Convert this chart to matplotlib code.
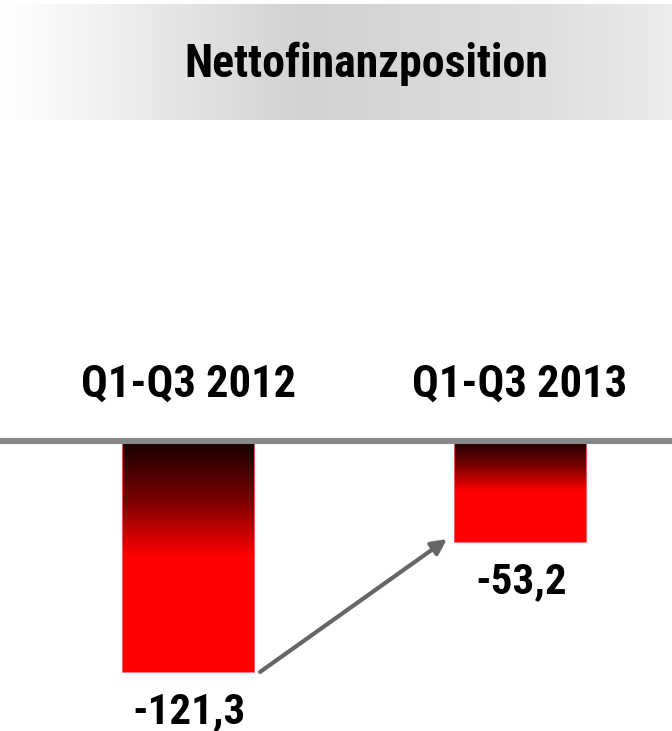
import numpy as np
import matplotlib
matplotlib.use("Agg")
import matplotlib.pyplot as plt
from matplotlib.colors import LinearSegmentedColormap

title = "Nettofinanzposition"
categories = ["Q1-Q3 2012", "Q1-Q3 2013"]
values = [-121.3, -53.2]
value_labels = ["-121,3", "-53,2"]

FONT = ["Roboto Condensed", "Liberation Sans", "DejaVu Sans"]
plt.rcParams['font.family'] = FONT

W, H = 672, 731
fig = plt.figure(figsize=(W / 100, H / 100), dpi=100)

# Title band (gradient)
band = fig.add_axes([0, 1 - 120 / H, 1, (120 - 4) / H])
band_cmap = LinearSegmentedColormap.from_list(
    "band", [(0.0, "#ffffff"), (0.04, "#fcfcfc"), (0.45, "#d2d2d2"), (0.8, "#dedede"), (1.0, "#ececec")])
band.imshow(np.linspace(0, 1, 400).reshape(1, -1), aspect="auto", cmap=band_cmap,
            extent=[0, 1, 0, 1])
band.set_axis_off()
band.text(0.545, (120 - 77) / 116, title, transform=band.transAxes, ha="center", va="baseline",
          fontsize=33, fontweight="bold", color="black")

# Main axes covering figure
ax = fig.add_axes([0, 0, 1, 1 - 120 / H])
ax.set_zorder(-1)
px_per_unit = 1.904
zero_px = 441 - 120  # from top of this axes
ax_h = H - 120
ax.set_ylim(-(ax_h - zero_px) / px_per_unit, zero_px / px_per_unit)
ax.set_xlim(-188 / 332, (W - 188) / 332)
ax.set_axis_off()

bar_cmap = LinearSegmentedColormap.from_list(
    "bar", [(0.0, "#160000"), (0.25, "#780000"), (0.5, "#ff0000"), (1.0, "#ff0000")])
x = np.arange(len(categories))
width = 0.40
bars = ax.bar(x, values, width=width, color="none", edgecolor="#ff6666", linewidth=0.6, zorder=2)
grad = np.linspace(0, 1, 256).reshape(-1, 1)
for b in bars:
    x0, y0 = b.get_x(), b.get_y()
    w, h = b.get_width(), b.get_height()
    im = ax.imshow(grad, aspect="auto", cmap=bar_cmap,
                   extent=[x0, x0 + w, y0 + h, y0], zorder=1, interpolation="bilinear")
    im.set_clip_path(b)

ax.axhline(0, color="#888888", linewidth=4.4, zorder=3)

for xi, cat in zip(x, categories):
    ax.annotate(cat, xy=(xi, 0), xytext=(0, 44), textcoords="offset pixels",
                ha="center", va="baseline", fontsize=32, fontweight="bold")

for xi, v, lab in zip(x, values, value_labels):
    ax.annotate(lab, xy=(xi, v), xytext=(1, -51), textcoords="offset pixels",
                ha="center", va="baseline", fontsize=31, fontweight="bold")

# Arrow from bar 1 bottom to bar 2 bottom
ax.annotate("", xy=(x[1] - width / 2 - 0.02, values[1] + 1.7),
            xytext=(x[0] + width / 2 + 0.017, values[0]),
            arrowprops=dict(arrowstyle="-|>,head_length=0.9,head_width=0.45",
                            color="#666666", lw=3, shrinkA=0, shrinkB=0))

fig.savefig("out.png", dpi=100)
